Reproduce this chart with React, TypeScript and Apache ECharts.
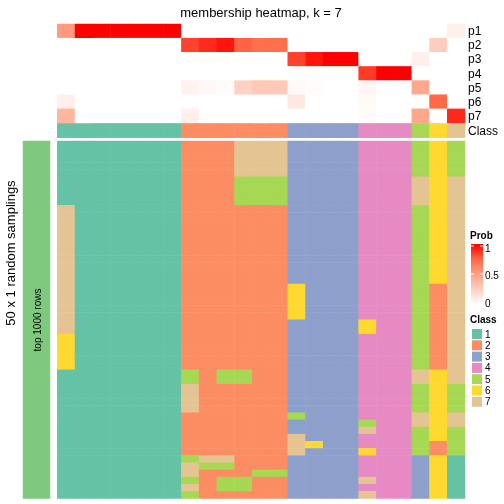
import React, { useEffect, useRef } from 'react';
import * as echarts from 'echarts';

// ---- data ----
const columnClass = [1, 1, 1, 1, 1, 1, 1, 2, 2, 2, 2, 2, 2, 3, 3, 3, 3, 4, 4, 4, 5, 6, 7];
const probLabels = ['p1', 'p2', 'p3', 'p4', 'p5', 'p6', 'p7'];
const p1 = [0.52, 1, 1, 1, 1, 1, 1, 0, 0, 0, 0, 0, 0, 0, 0, 0, 0, 0, 0, 0, 0, 0, 0.08];
const p2 = [0, 0, 0, 0, 0, 0, 0, 0.84, 0.9, 0.95, 0.76, 0.72, 0.72, 0, 0, 0, 0, 0, 0, 0, 0, 0.26, 0];
const p3 = [0, 0, 0, 0, 0, 0, 0, 0, 0, 0, 0, 0, 0, 0.84, 0.95, 1, 1, 0, 0, 0, 0.08, 0, 0];
const p4 = [0, 0, 0, 0, 0, 0, 0, 0, 0, 0, 0, 0, 0, 0, 0, 0, 0, 0.86, 1, 1, 0, 0, 0];
const p5 = [0, 0, 0, 0, 0, 0, 0, 0.06, 0.04, 0.02, 0.24, 0.28, 0.28, 0.03, 0.015, 0, 0, 0.05, 0, 0, 0.45, 0, 0];
const p6 = [0.08, 0, 0, 0, 0, 0, 0, 0, 0, 0, 0, 0, 0, 0.12, 0, 0, 0, 0.03, 0, 0, 0, 0.74, 0];
const p7 = [0.38, 0, 0, 0, 0, 0, 0, 0.08, 0, 0, 0, 0, 0, 0, 0, 0, 0, 0.02, 0, 0, 0.46, 0, 0.9];
const probs = [p1, p2, p3, p4, p5, p6, p7];

// class assigned in each of the 50 random samplings (rows) for each column
const samplingRows = [
  '11111112227773333444565',
  '11111112227773333444565',
  '11111112227773333444565',
  '11111112227773333444565',
  '11111112227773333444565',
  '11111112225553333444767',
  '11111112225553333444767',
  '11111112225553333444767',
  '11111112225553333444767',
  '71111112222223333444567',
  '71111112222223333444567',
  '71111112222223333444567',
  '71111112222223333444567',
  '71111112222223333444567',
  '71111112222223333444567',
  '71111112222223333444567',
  '71111112222223333444567',
  '71111112222223333444567',
  '71111112222223333444567',
  '71111112222223333444567',
  '71111112222226333444527',
  '71111112222226333444527',
  '71111112222226333444527',
  '71111112222226333444527',
  '71111112222226333444527',
  '71111112222223333644527',
  '71111112222223333644527',
  '61111112222223333444527',
  '61111112222223333444527',
  '61111112222223333444527',
  '61111112222223333444527',
  '61111112222223333444527',
  '11111115255223333444767',
  '11111115255223333444767',
  '11111117222223333444565',
  '11111117222223333444565',
  '11111117222223333444565',
  '11111117222223333444565',
  '11111112222225333444767',
  '11111112222223333544767',
  '11111112222223333744565',
  '11111112222227333444565',
  '11111112222227633444525',
  '11111112222227333644525',
  '11111115772223333444361',
  '11111117552223333444361',
  '11111117222553333444361',
  '11111115255223333744361',
  '11111117255223333444361',
  '11111115222223333744361',
];

const classNames = ['1', '2', '3', '4', '5', '6', '7'];
const classColors = ['#66C2A5', '#FC8D62', '#8DA0CB', '#E78AC3', '#A6D854', '#FFD92F', '#E5C494'];
const probStops = ['#FFFFFF', '#FFCFBF', '#FF9E81', '#FF6746', '#FF0000'];
const probTicks = ['1', '0.5', '0'];

const FONT = 'Liberation Sans, Arial, Helvetica, sans-serif';

export default function App() {
  const ref = useRef<HTMLDivElement>(null);
  useEffect(() => {
    if (!ref.current) return;
    const chart = echarts.init(ref.current, undefined, { renderer: 'svg' });
    const cols = columnClass.map((_, i) => String(i));
    const rows = samplingRows.map((_, i) => String(i));

    const probData: number[][] = [];
    probs.forEach((arr, r) => arr.forEach((v, c) => probData.push([c, r, v])));
    const classData = columnClass.map((v, c) => [c, 0, v]);
    const mainData: number[][] = [];
    samplingRows.forEach((s, r) => s.split('').forEach((ch, c) => mainData.push([c, r, Number(ch)])));

    const L = 57.3, R = 504 - 465;
    const hiddenX = (gi: number) => ({ type: 'category', gridIndex: gi, data: cols, show: false });
    const labelY = (gi: number, data: string[]) => ({
      type: 'category', gridIndex: gi, data, inverse: true, position: 'right',
      axisLine: { show: false }, axisTick: { show: false }, splitLine: { show: false },
      axisLabel: { interval: 0, margin: 3, fontSize: 12, color: '#000', fontFamily: FONT },
    });

    const legendX = 471;
    const classLegend: any[] = [];
    classNames.forEach((n, i) => {
      const y = 329 + i * 11.3;
      classLegend.push({ type: 'rect', z: 10, shape: { x: legendX + 1, y, width: 10, height: 10 }, style: { fill: classColors[i] } });
      classLegend.push({ type: 'text', z: 10, x: 485, y: y + 5, style: { text: n, font: `10px ${FONT}`, fill: '#000', align: 'left', verticalAlign: 'middle' } });
    });
    const gTop = 244, gH = 60;
    const tickY = [gTop + 2, gTop + gH / 2, gTop + gH - 1];

    chart.setOption({
      animation: false,
      textStyle: { fontFamily: FONT },
      grid: [
        { left: L, right: R, top: 24, height: 99 },
        { left: L, right: R, top: 123.4, height: 14.3 },
        { left: L, right: R, top: 141, height: 357.5 },
        { left: 23, width: 27, top: 141, height: 357.5 },
      ],
      xAxis: [hiddenX(0), hiddenX(1), hiddenX(2), { type: 'category', gridIndex: 3, data: ['bar'], show: false }],
      yAxis: [
        labelY(0, probLabels),
        labelY(1, ['Class']),
        { type: 'category', gridIndex: 2, data: rows, inverse: true, show: false },
        { type: 'category', gridIndex: 3, data: ['all'], show: false },
      ],
      visualMap: [
        { type: 'continuous', seriesIndex: 0, min: 0, max: 1, show: false, inRange: { color: probStops } },
        {
          type: 'piecewise', seriesIndex: [1, 2], show: false,
          pieces: classNames.map((n, i) => ({ value: Number(n), color: classColors[i] })),
        },
        { type: 'piecewise', seriesIndex: 3, show: false, pieces: [{ value: 1, color: '#7FC97F' }] },
      ],
      series: [
        { type: 'heatmap', xAxisIndex: 0, yAxisIndex: 0, data: probData, silent: true },
        { type: 'heatmap', xAxisIndex: 1, yAxisIndex: 1, data: classData, silent: true },
        { type: 'heatmap', xAxisIndex: 2, yAxisIndex: 2, data: mainData, silent: true },
        { type: 'heatmap', xAxisIndex: 3, yAxisIndex: 3, data: [[0, 0, 1]], silent: true },
      ],
      graphic: {
        elements: [
          { type: 'text', z: 10, x: 261, y: 12, style: { text: 'membership heatmap, k = 7', font: `13px ${FONT}`, fill: '#000', align: 'center', verticalAlign: 'middle' } },
          { type: 'text', z: 10, x: 10, y: 253, rotation: Math.PI / 2, style: { text: '50 x 1 random samplings', font: `13px ${FONT}`, fill: '#000', align: 'center', verticalAlign: 'middle' } },
          { type: 'text', z: 100, x: 37.5, y: 320, rotation: Math.PI / 2, style: { text: 'top 1000 rows', font: `10px ${FONT}`, fill: '#000', align: 'center', verticalAlign: 'middle' } },
          { type: 'text', z: 10, x: legendX - 1, y: 235, style: { text: 'Prob', font: `bold 10px ${FONT}`, fill: '#000', align: 'left', verticalAlign: 'middle' } },
          {
            type: 'rect', z: 10, shape: { x: legendX, y: gTop, width: 12, height: gH },
            style: {
              fill: new echarts.graphic.LinearGradient(0, 0, 0, 1,
                probStops.slice().reverse().map((c, i) => ({ offset: i / (probStops.length - 1), color: c }))),
            },
          },
          ...probTicks.flatMap((t, i) => [
            { type: 'line', z: 11, shape: { x1: legendX, y1: tickY[i], x2: legendX + 3, y2: tickY[i] }, style: { stroke: '#fff', lineWidth: 1 } },
            { type: 'line', z: 11, shape: { x1: legendX + 9, y1: tickY[i], x2: legendX + 12, y2: tickY[i] }, style: { stroke: '#fff', lineWidth: 1 } },
            { type: 'text', z: 10, x: 485, y: [248, 275.5, 303.5][i], style: { text: t, font: `10px ${FONT}`, fill: '#000', align: 'left', verticalAlign: 'middle' } },
          ]),
          { type: 'text', z: 10, x: legendX - 1, y: 319, style: { text: 'Class', font: `bold 10px ${FONT}`, fill: '#000', align: 'left', verticalAlign: 'middle' } },
          ...classLegend,
        ],
      },
    });
    return () => chart.dispose();
  }, []);
  return <div ref={ref} style={{ position: 'fixed', left: 0, top: 0, width: 504, height: 504 }} />;
}
